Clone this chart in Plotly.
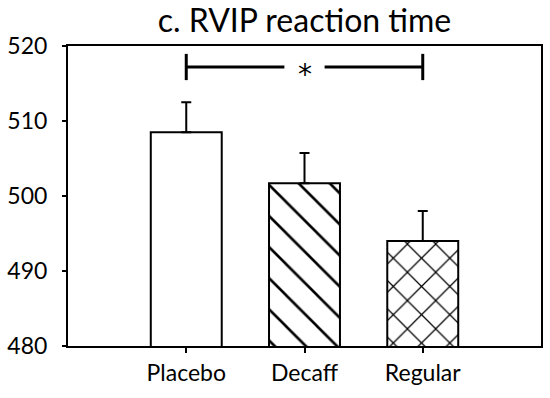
import plotly.graph_objects as go

categories = ["Placebo", "Decaff", "Regular"]
means = [508.5, 501.7, 494.0]
sem = [4.0, 4.05, 4.0]
patterns = ["", "\\", "x"]
pattern_sizes = [10, 22, 20]
y_ticks = [480, 490, 500, 510, 520]
title_text = "c. RVIP reaction time"
sig_from, sig_to = 0, 2
sig_y = 517.2
sig_label = "*"

FONT = "Lato"

fig = go.Figure()
fig.add_trace(go.Bar(
    x=categories, y=means, width=0.6,
    marker=dict(
        color="white",
        line=dict(color="black", width=2),
        pattern=dict(shape=patterns, size=pattern_sizes, solidity=0.12,
                     fgcolor="black", fgopacity=1, bgcolor="white", fillmode="overlay"),
    ),
    error_y=dict(type="data", array=sem, arrayminus=[0] * len(sem),
                 symmetric=False, color="black", thickness=2, width=5),
    showlegend=False,
))

# significance bracket
mid = (sig_from + sig_to) / 2
gap = 0.17
lw = 3
for x0, x1 in [(sig_from, mid - gap), (mid + gap, sig_to)]:
    fig.add_shape(type="line", xref="x", yref="y", x0=x0, x1=x1, y0=sig_y, y1=sig_y,
                  line=dict(color="black", width=lw))
for xe in [sig_from, sig_to]:
    fig.add_shape(type="line", xref="x", yref="y", x0=xe, x1=xe,
                  y0=sig_y - 1.75, y1=sig_y + 1.75, line=dict(color="black", width=lw))
fig.add_annotation(x=mid, y=sig_y, xref="x", yref="y", text=sig_label, showarrow=False,
                   font=dict(family="DejaVu Sans", size=28, color="black"),
                   yanchor="middle", yshift=-7)

fig.update_layout(
    width=550, height=398,
    margin=dict(l=63.5, r=7, t=45.7, b=52.3),
    paper_bgcolor="white", plot_bgcolor="white",
    title=dict(text=title_text, x=0.5, xref="paper", y=1 - 21 / 398, yref="container",
               yanchor="middle",
               font=dict(family=FONT, size=32, color="black")),
    font=dict(family=FONT, color="black"),
    xaxis=dict(range=[-1, 3], showline=True, linecolor="black", linewidth=2, mirror=True,
               ticks="outside", ticklen=5, tickwidth=1.5, tickcolor="black",
               tickfont=dict(size=23, family=FONT), showgrid=False, zeroline=False),
    yaxis=dict(range=[480, 520], tickvals=y_ticks, showline=True, linecolor="black", linewidth=2,
               mirror=True, ticks="outside", ticklen=4, tickwidth=1.5, tickcolor="black",
               tickfont=dict(size=23, family=FONT), showgrid=False, zeroline=False,
               ticklabelstandoff=10),
)

fig.write_html("out.html", config={"displayModeBar": False},
               post_script="document.body.style.margin='0';")
